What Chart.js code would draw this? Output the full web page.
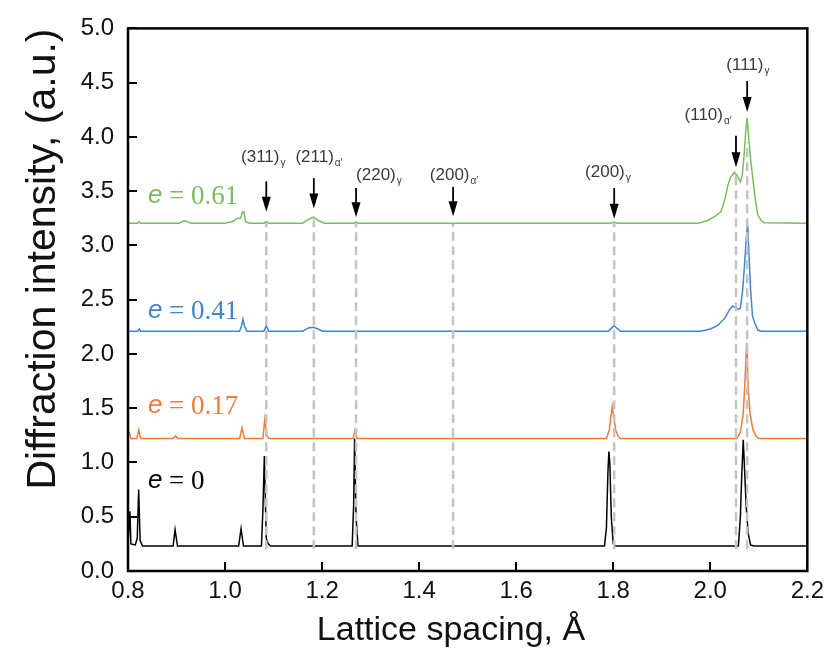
<!DOCTYPE html>
<html lang="en">
<head>
<meta charset="UTF-8">
<title>Diffraction intensity vs lattice spacing</title>
<script src="https://cdn.jsdelivr.net/npm/chart.js@4.4.1/dist/chart.umd.min.js"></script>
<style>
  html, body { margin: 0; padding: 0; background: #fff; }
  #wrap { width: 830px; height: 660px; }
</style>
</head>
<body>
<div id="wrap"><canvas id="xrd"></canvas></div>
<script>
// spectra, [lattice spacing (A), intensity (a.u.)]
const strain0 = [
  [0.800,0.25],[0.802,0.25],[0.804,0.55],[0.806,0.25],[0.815,0.24],[0.819,0.30],[0.822,0.75],[0.825,0.28],
  [0.830,0.23],[0.893,0.23],[0.897,0.38],[0.902,0.23],[1.028,0.23],[1.033,0.39],[1.038,0.23],[1.075,0.23],
  [1.078,0.56],[1.081,1.06],[1.085,0.30],[1.089,0.25],[1.094,0.23],[1.262,0.23],[1.265,0.60],[1.267,1.22],
  [1.270,0.50],[1.274,0.23],[1.782,0.23],[1.786,0.40],[1.789,0.90],[1.791,1.10],[1.793,1.00],[1.796,0.50],
  [1.800,0.25],[1.805,0.23],[2.058,0.23],[2.062,0.50],[2.065,0.90],[2.068,1.21],[2.071,0.90],[2.074,0.60],
  [2.078,0.35],[2.083,0.24],[2.090,0.23],[2.200,0.23]
];
const strain17 = [
  [0.800,1.23],[0.803,1.27],[0.806,1.22],[0.818,1.22],[0.822,1.30],[0.826,1.22],[0.893,1.22],[0.898,1.245],
  [0.903,1.22],[1.030,1.22],[1.035,1.32],[1.040,1.22],[1.078,1.22],[1.082,1.40],[1.086,1.25],[1.090,1.22],
  [1.264,1.22],[1.268,1.30],[1.272,1.22],[1.786,1.22],[1.792,1.30],[1.796,1.45],[1.798,1.515],[1.801,1.42],
  [1.805,1.30],[1.810,1.24],[1.815,1.22],[2.055,1.22],[2.062,1.28],[2.068,1.45],[2.072,1.80],[2.075,2.10],
  [2.078,1.70],[2.082,1.45],[2.088,1.30],[2.095,1.24],[2.100,1.22],[2.200,1.22]
];
const strain41 = [
  [0.800,2.21],[0.820,2.21],[0.823,2.23],[0.826,2.21],[1.030,2.21],[1.034,2.26],[1.037,2.32],[1.040,2.26],
  [1.045,2.21],[1.080,2.21],[1.085,2.26],[1.090,2.21],[1.160,2.21],[1.172,2.24],[1.182,2.245],[1.192,2.23],
  [1.200,2.21],[1.790,2.21],[1.797,2.24],[1.802,2.26],[1.808,2.235],[1.815,2.21],[1.980,2.21],[2.000,2.23],
  [2.015,2.26],[2.030,2.33],[2.040,2.41],[2.046,2.44],[2.052,2.43],[2.058,2.41],[2.062,2.42],[2.067,2.60],
  [2.071,2.85],[2.074,3.05],[2.077,3.19],[2.080,2.90],[2.083,2.60],[2.087,2.35],[2.092,2.28],[2.098,2.22],
  [2.105,2.21],[2.200,2.21]
];
const strain61 = [
  [0.800,3.205],[0.820,3.205],[0.823,3.22],[0.826,3.205],[0.905,3.205],[0.917,3.23],[0.930,3.205],[1.000,3.205],
  [1.015,3.22],[1.026,3.25],[1.032,3.25],[1.036,3.31],[1.039,3.31],[1.042,3.22],[1.050,3.205],[1.080,3.205],
  [1.085,3.22],[1.090,3.205],[1.160,3.205],[1.172,3.24],[1.182,3.26],[1.192,3.23],[1.205,3.205],[1.265,3.205],
  [1.270,3.215],[1.275,3.205],[1.795,3.205],[1.802,3.215],[1.809,3.205],[1.975,3.205],[1.995,3.23],[2.010,3.27],
  [2.022,3.31],[2.030,3.42],[2.036,3.55],[2.042,3.63],[2.050,3.675],[2.056,3.64],[2.062,3.585],[2.066,3.65],
  [2.070,3.85],[2.073,4.05],[2.076,4.175],[2.079,4.00],[2.083,3.80],[2.087,3.645],[2.092,3.45],[2.098,3.28],
  [2.105,3.23],[2.111,3.21],[2.200,3.205]
];

const strainLabels = ['0', '0.17', '0.41', '0.61'];
const strainLabelX = [0.841, 0.841, 0.841, 0.841];
const strainLabelY = [0.834, 1.52, 2.40, 3.46];

// reflections: dashed guide lines and arrows
const peakNames = ['(311)', '(211)', '(220)', '(200)', '(200)', '(110)', '(111)'];
const peakPhase = ['γ', 'α′', 'γ', 'α′', 'γ', 'α′', 'γ'];
const peakX     = [1.085, 1.183, 1.270, 1.470, 1.802, 2.053, 2.076];
const guideTop  = [3.21, 3.24, 3.21, 3.20, 3.21, 3.64, 3.95];
const guideBottom = 0.20;
const arrowTop  = [3.59, 3.62, 3.53, 3.54, 3.53, 4.01, 4.515];
const arrowTip  = [3.31, 3.34, 3.26, 3.27, 3.245, 3.72, 4.23];
const nameX     = [1.033, 1.145, 1.270, 1.422, 1.742, 1.947, 2.033];
const nameY     = [3.81, 3.81, 3.65, 3.65, 3.675, 4.20, 4.66];

const xTicks = [0.8, 1.0, 1.2, 1.4, 1.6, 1.8, 2.0, 2.2];
const yTicks = [0.0, 0.5, 1.0, 1.5, 2.0, 2.5, 3.0, 3.5, 4.0, 4.5, 5.0];

const colors = ['#000000', '#F07A3A', '#4086CF', '#78BD5C'];

const toXY = arr => arr.map(p => ({ x: p[0], y: p[1] }));

const spectra = [strain0, strain17, strain41, strain61].map((s, i) => ({
  data: toXY(s),
  borderColor: colors[i],
  borderWidth: 1.5,
  pointRadius: 0,
  tension: 0,
  order: 2
}));

const guides = peakX.map((px, i) => ({
  data: [{ x: px, y: guideBottom }, { x: px, y: guideTop[i] }],
  borderColor: '#c4c4c4',
  borderWidth: 2.5,
  borderDash: [9, 5],
  pointRadius: 0,
  order: 1
}));

const SANS = '"Liberation Sans", Arial, sans-serif';
const SERIF = '"Liberation Serif", "Times New Roman", serif';

// frame, inward ticks, arrows, annotations and axis titles
const decor = {
  id: 'decor',
  afterDraw(chart) {
    const { ctx, chartArea: a, scales: { x, y } } = chart;
    ctx.save();

    ctx.strokeStyle = '#000';
    ctx.lineWidth = 2;
    ctx.beginPath();
    xTicks.forEach(v => {
      const px = Math.round(x.getPixelForValue(v));
      ctx.moveTo(px, a.bottom); ctx.lineTo(px, a.bottom - 9);
    });
    yTicks.forEach(v => {
      const py = Math.round(y.getPixelForValue(v));
      ctx.moveTo(a.left, py); ctx.lineTo(a.left + 9, py);
    });
    ctx.stroke();

    ctx.lineWidth = 2.5;
    ctx.strokeRect(a.left, a.top, a.right - a.left, a.bottom - a.top);

    // arrows
    peakX.forEach((v, i) => {
      const px = x.getPixelForValue(v);
      const t = y.getPixelForValue(arrowTop[i]);
      const b = y.getPixelForValue(arrowTip[i]);
      ctx.strokeStyle = '#000';
      ctx.lineWidth = 1.8;
      ctx.beginPath();
      ctx.moveTo(px, t); ctx.lineTo(px, b - 10);
      ctx.stroke();
      ctx.fillStyle = '#000';
      ctx.beginPath();
      ctx.moveTo(px - 4.5, b - 15);
      ctx.lineTo(px + 4.5, b - 15);
      ctx.lineTo(px, b);
      ctx.closePath();
      ctx.fill();
    });

    // reflection names
    ctx.fillStyle = '#3a3a3a';
    ctx.textBaseline = 'middle';
    ctx.textAlign = 'left';
    peakNames.forEach((n, i) => {
      const px = x.getPixelForValue(nameX[i]);
      const py = y.getPixelForValue(nameY[i]);
      ctx.font = '17px ' + SANS;
      ctx.fillText(n, px, py);
      const w = ctx.measureText(n).width;
      ctx.font = '10px ' + SANS;
      ctx.fillText(peakPhase[i], px + w + 1, py + 6);
    });

    // strain labels
    strainLabels.forEach((s, i) => {
      const px = x.getPixelForValue(strainLabelX[i]);
      const py = y.getPixelForValue(strainLabelY[i]);
      ctx.fillStyle = colors[i];
      ctx.font = 'italic 26px ' + SANS;
      ctx.fillText('e', px, py);
      const w = ctx.measureText('e').width;
      ctx.font = '27px ' + SERIF;
      ctx.fillText(' = ' + s, px + w, py + 1);
    });

    // axis titles
    ctx.fillStyle = '#111';
    ctx.textAlign = 'center';
    ctx.textBaseline = 'alphabetic';
    ctx.font = '34px ' + SANS;
    ctx.fillText('Lattice spacing, Å', 451, 640);

    ctx.translate(55, 259);
    ctx.rotate(-Math.PI / 2);
    ctx.font = '41px ' + SANS;
    ctx.fillText('Diffraction intensity, (a.u.)', 0, 0);

    ctx.restore();
  }
};

new Chart(document.getElementById('xrd'), {
  type: 'line',
  data: { datasets: [...spectra, ...guides] },
  options: {
    responsive: true,
    maintainAspectRatio: false,
    animation: false,
    layout: { padding: { top: 21, right: 20, left: 0, bottom: 0 } },
    plugins: { legend: { display: false }, tooltip: { enabled: false } },
    scales: {
      x: {
        type: 'linear',
        min: 0.8, max: 2.2,
        afterFit: s => { s.height = 89; },
        afterBuildTicks: s => { s.ticks = xTicks.map(v => ({ value: v })); },
        grid: { display: false, drawTicks: false },
        border: { display: false },
        ticks: {
          padding: 6,
          color: '#111',
          font: { family: SANS, size: 24 },
          callback: v => v.toFixed(1)
        }
      },
      y: {
        min: 0, max: 5,
        afterFit: s => { s.width = 128; },
        afterBuildTicks: s => { s.ticks = yTicks.map(v => ({ value: v })); },
        grid: { display: false, drawTicks: false },
        border: { display: false },
        ticks: {
          padding: 14,
          color: '#111',
          font: { family: SANS, size: 24 },
          callback: v => v.toFixed(1)
        }
      }
    }
  },
  plugins: [decor]
});
</script>
</body>
</html>
